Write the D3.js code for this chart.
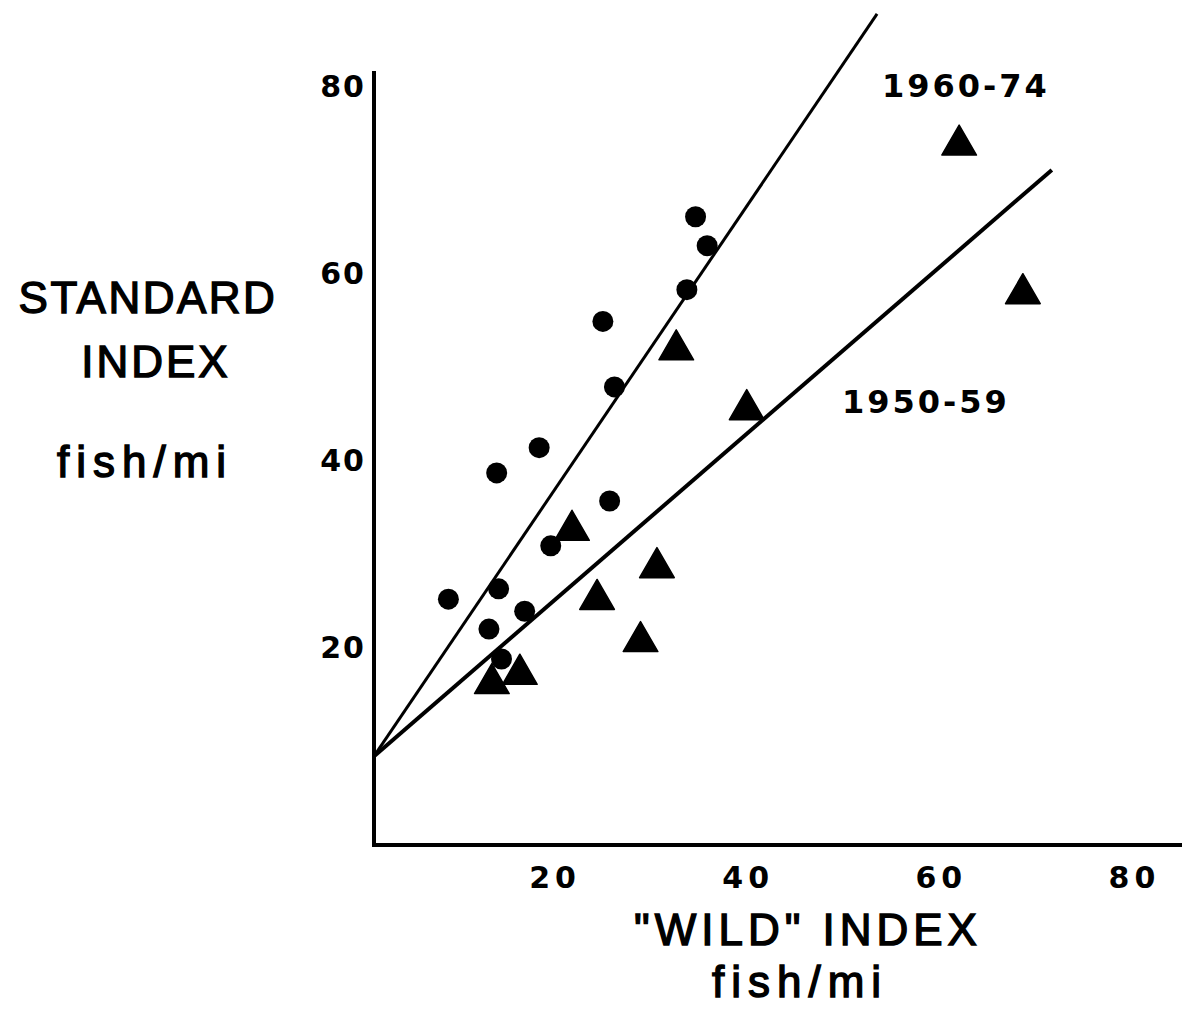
<!DOCTYPE html>
<html>
<head>
<meta charset="utf-8">
<script src="https://cdn.jsdelivr.net/npm/d3@7"></script>
<style>
  body { margin: 0; background: #fff; }
  svg { display: block; }
  text { font-family: "Liberation Sans", Arial, sans-serif; fill: #000; }
</style>
</head>
<body>
<div id="chart"></div>
<script>
const WIDTH = 1182;
const HEIGHT = 1016;

// tick labels
const xTicks = [20, 40, 60, 80];
const yTicks = [20, 40, 60, 80];

// circles (1960-74)
const circleX = [34.6, 35.8, 33.7, 25.0, 26.2, 18.4, 14.0, 25.7, 19.6, 14.2, 9.0, 16.9, 13.2, 14.5];
const circleY = [66.1, 63.0, 58.3, 54.9, 47.9, 41.4, 38.7, 35.7, 30.9, 26.3, 25.2, 23.9, 22.0, 18.8];

// triangles (1950-59)
const triX = [32.6, 39.9, 21.8, 30.6, 24.4, 28.9, 16.4, 13.5, 61.9, 68.5];
const triY = [52.4, 46.0, 33.1, 29.1, 25.7, 21.2, 17.7, 16.7, 74.3, 58.4];

// fitted lines, [x, y] endpoints
const line6074 = [[1.3, 8.4], [53.4, 87.8]];
const line5059 = [[1.3, 8.4], [71.5, 71.1]];

const lineLabels = ["1960-74", "1950-59"];

var x = d3.scaleLinear().domain([0, 80]).range([361.5, 361.5 + 80 * 9.655]);
var y = d3.scaleLinear().domain([0, 80]).range([834.75, 834.75 - 80 * 9.35]);

// where the hand drawn axes cross
const X0 = x.invert(374);
const Y0 = y.invert(845);
const YTOP = y.invert(71);
const XEND = x.invert(WIDTH);

const numFont = "'DejaVu Sans', 'Liberation Sans', sans-serif";

var svg = d3.select("#chart")
            .append("svg")
            .attr("width", WIDTH)
            .attr("height", HEIGHT);

svg.append("rect").attr("width", WIDTH).attr("height", HEIGHT).attr("fill", "#fff");

// axes lines
svg.append("line")
    .attr("x1", x(X0)).attr("x2", x(X0))
    .attr("y1", y(YTOP)).attr("y2", y(Y0) + 2)
    .attr("stroke", "#000").attr("stroke-width", 4);

svg.append("line")
    .attr("x1", x(X0) - 2).attr("x2", x(XEND))
    .attr("y1", y(Y0)).attr("y2", y(Y0))
    .attr("stroke", "#000").attr("stroke-width", 4);

// tick labels
var yAxis = svg.append("g")
    .attr("transform", `translate(${x(X0)},0)`)
    .call(d3.axisLeft(y).tickValues(yTicks).tickSize(0).tickPadding(8));
yAxis.select(".domain").remove();
yAxis.selectAll("text")
    .style("font-family", numFont)
    .style("font-size", "30px")
    .style("font-weight", "bold")
    .style("letter-spacing", "2px")
    .attr("fill", "#000");

var xAxis = svg.append("g")
    .attr("transform", `translate(0,${y(Y0)})`)
    .call(d3.axisBottom(x).tickValues(xTicks).tickSize(0).tickPadding(22));
xAxis.select(".domain").remove();
xAxis.selectAll("text")
    .style("font-family", numFont)
    .style("font-size", "30px")
    .style("font-weight", "bold")
    .style("letter-spacing", "5px")
    .attr("fill", "#000");

// regression lines
var lineGen = d3.line().x(d => x(d[0])).y(d => y(d[1]));

svg.append("path")
    .attr("d", lineGen(line6074))
    .attr("fill", "none")
    .attr("stroke", "#000")
    .attr("stroke-width", 3);

svg.append("path")
    .attr("d", lineGen(line5059))
    .attr("fill", "none")
    .attr("stroke", "#000")
    .attr("stroke-width", 4);

// points
svg.append("g").selectAll("circle")
    .data(circleX.map((d, i) => [d, circleY[i]]))
    .enter().append("circle")
    .attr("cx", d => x(d[0]))
    .attr("cy", d => y(d[1]))
    .attr("r", 10.5)
    .attr("fill", "#000");

var tri = d3.symbol().type(d3.symbolTriangle).size(520);
var triShift = Math.sqrt(520 / (Math.sqrt(3) * 3)) / 2;

svg.append("g").selectAll("path")
    .data(triX.map((d, i) => [d, triY[i]]))
    .enter().append("path")
    .attr("d", tri)
    .attr("transform", d => `translate(${x(d[0])},${y(d[1]) + triShift})`)
    .attr("fill", "#000")
    .attr("stroke", "#000")
    .attr("stroke-width", 1.5)
    .attr("stroke-linejoin", "round");

// line labels
svg.append("text")
    .attr("x", 882).attr("y", 97)
    .style("font-family", numFont)
    .style("font-size", "32px").style("font-weight", "bold").style("letter-spacing", "3px")
    .text(lineLabels[0]);

svg.append("text")
    .attr("x", 842).attr("y", 413)
    .style("font-family", numFont)
    .style("font-size", "32px").style("font-weight", "bold").style("letter-spacing", "3px")
    .text(lineLabels[1]);

// axis titles
function title(tx, ty, str, spacing) {
    svg.append("text")
        .attr("x", tx).attr("y", ty)
        .attr("text-anchor", "middle")
        .attr("stroke", "#000").attr("stroke-width", 1.4)
        .style("font-size", "44px")
        .style("letter-spacing", spacing + "px")
        .text(str);
}

title(148, 313, "STANDARD", 2.5);
title(156, 377, "INDEX", 3);
title(145, 477, "fish/mi", 7);

title(808, 945, "\"WILD\" INDEX", 5);
title(800, 997, "fish/mi", 7);
</script>
</body>
</html>
